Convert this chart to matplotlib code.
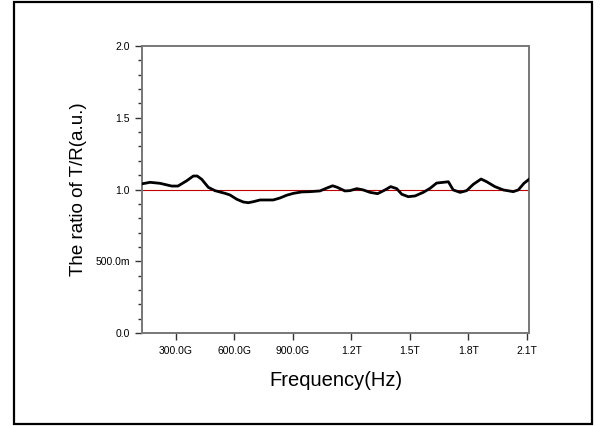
import matplotlib
matplotlib.use("Agg")
import matplotlib.pyplot as plt
from matplotlib.ticker import FixedLocator, MultipleLocator
from matplotlib.patches import Rectangle

plt.rcParams['font.family'] = ['Liberation Sans', 'DejaVu Sans']

# Frequency in GHz
freq_ghz = [127, 167, 218, 278, 310, 355, 389, 409, 432, 466, 500, 552, 577, 612,
            645, 671, 697, 731, 766, 799, 834, 868, 902, 945, 988, 1039, 1074,
            1104, 1128, 1167, 1193, 1228, 1261, 1296, 1335, 1373, 1402, 1433,
            1459, 1492, 1527, 1569, 1604, 1638, 1672, 1698, 1723, 1758, 1792,
            1826, 1866, 1895, 1937, 1980, 2031, 2057, 2086, 2112]
ratio = [1.040, 1.050, 1.043, 1.024, 1.024, 1.061, 1.094, 1.094, 1.071, 1.015,
         0.992, 0.973, 0.962, 0.932, 0.913, 0.908, 0.915, 0.927, 0.927, 0.927,
         0.941, 0.960, 0.973, 0.983, 0.985, 0.990, 1.010, 1.026, 1.015, 0.990,
         0.992, 1.006, 0.997, 0.980, 0.971, 0.997, 1.020, 1.006, 0.967, 0.950,
         0.955, 0.980, 1.008, 1.045, 1.050, 1.054, 0.997, 0.980, 0.992, 1.036,
         1.073, 1.054, 1.020, 0.997, 0.985, 0.997, 1.043, 1.071]
ref_level = 1.0

x_ticks = [300, 600, 900, 1200, 1500, 1800, 2100]
x_ticklabels = ["300.0G", "600.0G", "900.0G", "1.2T", "1.5T", "1.8T", "2.1T"]
y_ticks = [0.0, 0.5, 1.0, 1.5, 2.0]
y_ticklabels = ["0.0", "500.0m", "1.0", "1.5", "2.0"]

fig = plt.figure(figsize=(6.05, 4.26), dpi=100)
ax = fig.add_axes([142.3 / 605, 93 / 426, (529 - 142.3) / 605, (333 - 46) / 426])

# Outer frame
fig.patches.append(Rectangle((14 / 605, 2 / 426), (592 - 14) / 605, (424 - 2) / 426,
                             transform=fig.transFigure, fill=False,
                             edgecolor='black', linewidth=1.6))

ax.axhline(ref_level, color='#c00000', linewidth=0.8, zorder=2)
ax.plot(freq_ghz, ratio, color='black', linewidth=2.0, zorder=3)

ax.set_xlim(127, 2112)
ax.set_ylim(0.0, 2.0)

ax.xaxis.set_major_locator(FixedLocator(x_ticks))
ax.set_xticklabels(x_ticklabels)
ax.yaxis.set_major_locator(FixedLocator(y_ticks))
ax.set_yticklabels(y_ticklabels)
ax.yaxis.set_minor_locator(MultipleLocator(0.1))

for s in ax.spines.values():
    s.set_color('#777777')
    s.set_linewidth(1.4)

ax.tick_params(axis='both', which='major', direction='out', length=5, width=1,
               color='#333333', labelsize=7.5, pad=4)
ax.tick_params(axis='y', which='minor', direction='out', length=3, width=1,
               color='#333333')

ax.set_xlabel("Frequency(Hz)", fontsize=14.5, labelpad=11)
ax.set_ylabel("The ratio of T/R(a.u.)", fontsize=13.5, labelpad=6)

fig.savefig("out.png", dpi=100)
